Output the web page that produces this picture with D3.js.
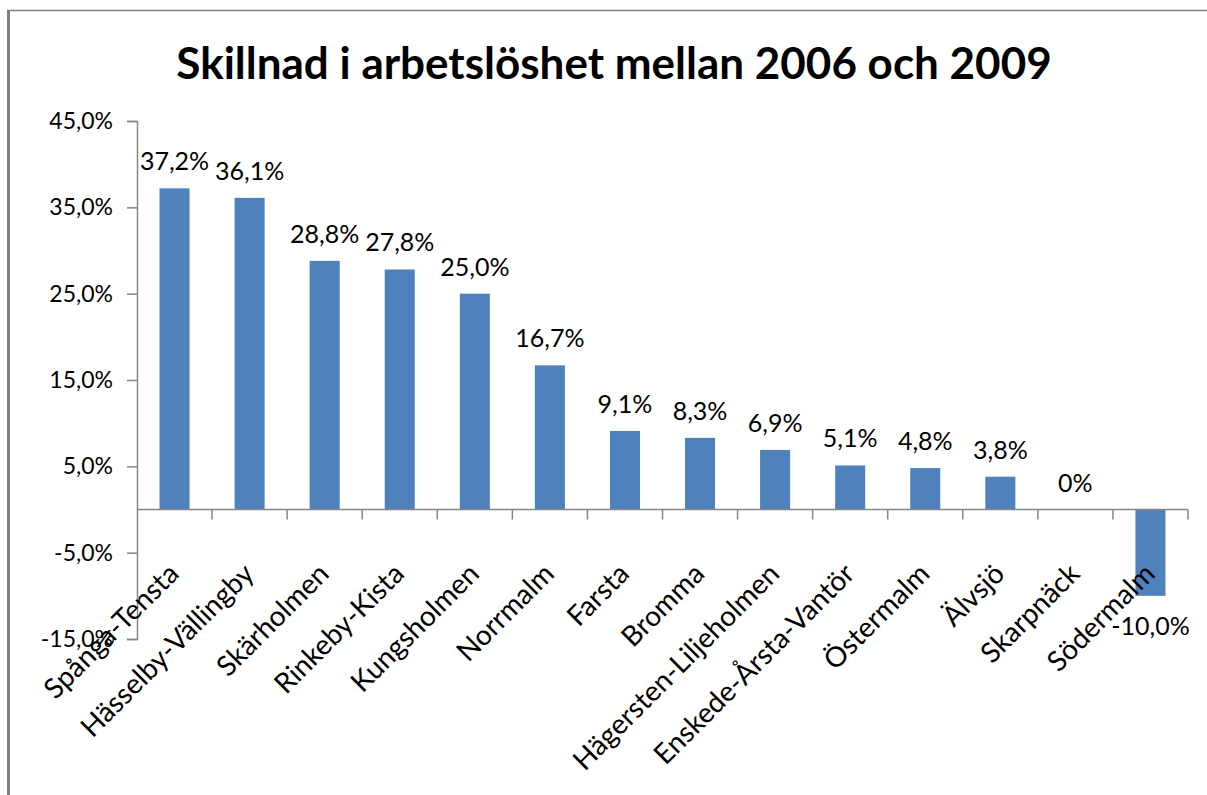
<!DOCTYPE html>
<html>
<head>
<meta charset="utf-8">
<script src="https://cdn.jsdelivr.net/npm/d3@7"></script>
<style>
  html, body { margin: 0; padding: 0; background: #fff; }
  svg text { font-family: Lato, "Open Sans", sans-serif; fill: #000; }
</style>
</head>
<body>
<svg id="chart" width="1207" height="795"></svg>
<script>
// ---- Data ----
const districts = [
  "Spånga-Tensta", "Hässelby-Vällingby", "Skärholmen", "Rinkeby-Kista",
  "Kungsholmen", "Norrmalm", "Farsta", "Bromma", "Hägersten-Liljeholmen",
  "Enskede-Årsta-Vantör", "Östermalm", "Älvsjö", "Skarpnäck", "Södermalm"
];
const change = [37.2, 36.1, 28.8, 27.8, 25.0, 16.7, 9.1, 8.3, 6.9, 5.1, 4.8, 3.8, 0, -10.0];
const yTicks = [45, 35, 25, 15, 5, -5, -15];
const title = "Skillnad i arbetslöshet mellan 2006 och 2009";

const data = districts.map((d, i) => ({ name: d, value: change[i] }));
const pct = v => v === 0 ? "0%" : v.toFixed(1).replace(".", ",") + "%";

const svg = d3.select("#chart");
const axisColor = "#868686";

// ---- Frame (chart area border, cut by the page) ----
svg.append("line")
  .attr("x1", 7).attr("x2", 1207).attr("y1", 10.5).attr("y2", 10.5)
  .attr("stroke", "#808080").attr("stroke-width", 1.5);
svg.append("line")
  .attr("x1", 8.5).attr("x2", 8.5).attr("y1", 10).attr("y2", 795)
  .attr("stroke", "#808080").attr("stroke-width", 3);

// ---- Title ----
svg.append("text")
  .attr("x", 614).attr("y", 79)
  .attr("text-anchor", "middle")
  .style("font-size", "44px").style("font-weight", "bold")
  .text(title);

// ---- Scales ----
const x = d3.scaleBand()
  .domain(districts)
  .range([137, 1188])
  .paddingInner(0.6)
  .paddingOuter(0.3);

const xEdge = d3.scaleBand().domain(districts).range([137, 1188]).padding(0);

const y = d3.scaleLinear()
  .domain([-15, 45])
  .range([639, 121]);

// ---- Bars ----
svg.selectAll("rect.bar")
  .data(data)
  .join("rect")
  .attr("class", "bar")
  .attr("x", d => x(d.name))
  .attr("width", x.bandwidth())
  .attr("y", d => y(Math.max(0, d.value)))
  .attr("height", d => Math.abs(y(d.value) - y(0)))
  .attr("fill", "#4F81BD");

// ---- Y axis ----
const yAxis = svg.append("g")
  .attr("transform", "translate(137,0)")
  .call(d3.axisLeft(y).tickValues(yTicks).tickSize(10).tickPadding(14)
    .tickFormat(d => d.toFixed(1).replace(".", ",") + "%"));
yAxis.select(".domain").attr("stroke", axisColor).attr("stroke-width", 1.5);
yAxis.selectAll(".tick line").attr("stroke", axisColor).attr("stroke-width", 1.5);
yAxis.selectAll(".tick text")
  .attr("fill", "#000")
  .style("font-size", "23px")
  .style("font-family", "Lato, sans-serif");

// ---- Category axis at zero ----
const y0 = y(0);
svg.append("line")
  .attr("x1", 137).attr("x2", 1188).attr("y1", y0).attr("y2", y0)
  .attr("stroke", axisColor).attr("stroke-width", 1.5);

const edges = districts.map(d => xEdge(d)).concat([xEdge.range()[1]]).slice(1);
svg.selectAll("line.ctick")
  .data(edges)
  .join("line")
  .attr("class", "ctick")
  .attr("x1", d => d).attr("x2", d => d)
  .attr("y1", y0).attr("y2", y0 + 10)
  .attr("stroke", axisColor).attr("stroke-width", 1.5);

// ---- Category labels (rotated) ----
svg.selectAll("text.cat")
  .data(data)
  .join("text")
  .attr("class", "cat")
  .attr("text-anchor", "end")
  .attr("transform", d => `translate(${x(d.name) + x.bandwidth() / 2 + 6},${y0 + 66}) rotate(-45)`)
  .style("font-size", "28px")
  .text(d => d.name);

// ---- Data labels ----
svg.selectAll("text.val")
  .data(data)
  .join("text")
  .attr("class", "val")
  .attr("text-anchor", "middle")
  .attr("x", d => x(d.name) + x.bandwidth() / 2)
  .attr("y", d => d.value >= 0 ? y(d.value) - 18 : y(d.value) + 39)
  .style("font-size", "25px")
  .text(d => pct(d.value));
</script>
</body>
</html>
